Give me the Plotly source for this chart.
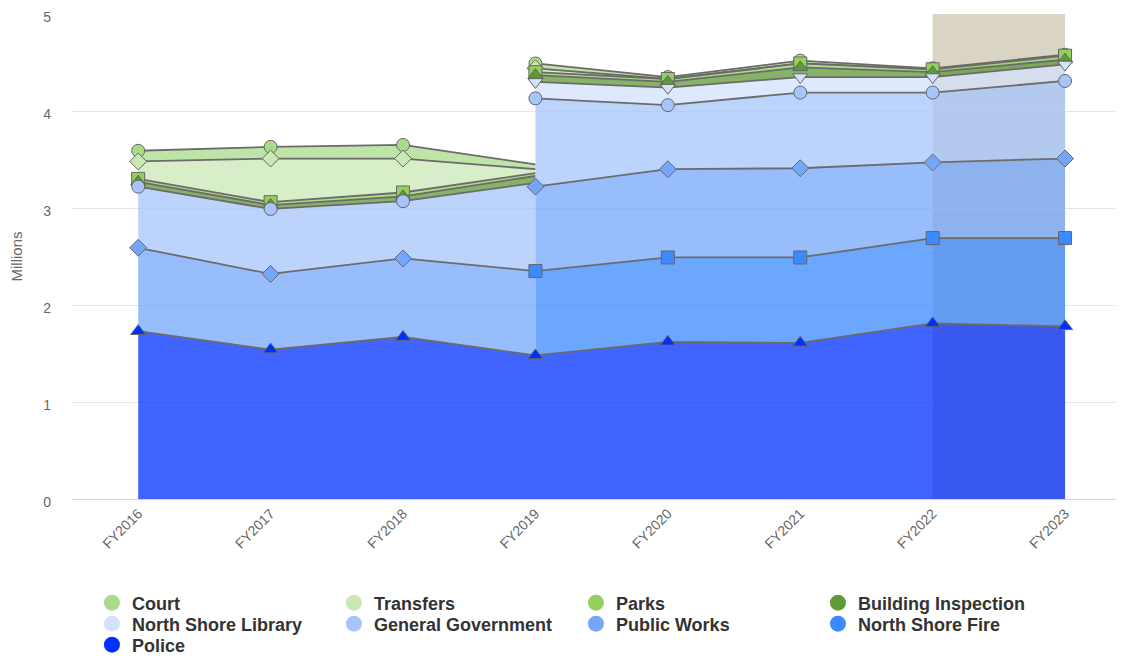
import plotly.graph_objects as go

years = ["FY2016", "FY2017", "FY2018", "FY2019", "FY2020", "FY2021", "FY2022", "FY2023"]

# values in millions, stacking order bottom -> top
police = [1.73, 1.54, 1.67, 1.48, 1.62, 1.61, 1.81, 1.78]
north_shore_fire = [None, None, None, 0.87, 0.87, 0.88, 0.88, 0.91]
public_works = [0.86, 0.78, 0.81, 0.87, 0.91, 0.92, 0.78, 0.82]
general_government = [0.63, 0.67, 0.59, 0.91, 0.66, 0.78, 0.72, 0.80]
north_shore_library = [None, None, None, 0.17, 0.18, 0.16, 0.16, 0.17]
building_inspection = [0.05, 0.04, 0.05, 0.07, 0.06, 0.10, 0.05, 0.05]
parks = [0.03, 0.03, 0.04, 0.03, 0.03, 0.04, 0.03, 0.04]
transfers = [0.18, 0.45, 0.35, 0.04, 0, 0, 0, 0]
court = [0.11, 0.12, 0.14, 0.05, 0.02, 0.03, 0.01, 0.01]

legend_names = ["Court", "Transfers", "Parks", "Building Inspection", "North Shore Library",
                "General Government", "Public Works", "North Shore Fire", "Police"]
series_values = [court, transfers, parks, building_inspection, north_shore_library,
                 general_government, public_works, north_shore_fire, police]
colors = ["#aadb8a", "#c9e8b6", "#93d15e", "#5e9a35", "#d4e2fc",
          "#a6c5fb", "#74a7fb", "#3b8aff", "#0030ff"]
symbols = ["circle", "diamond", "square", "triangle-up", "triangle-down",
           "circle", "diamond", "square", "triangle-up"]

band_range = ("FY2022", "FY2023")


def rgba(hex_color, a):
    h = hex_color.lstrip("#")
    r, g, b = int(h[0:2], 16), int(h[2:4], 16), int(h[4:6], 16)
    return f"rgba({r},{g},{b},{a})"


n = len(years)
# stack order bottom -> top
stack = list(reversed(range(len(legend_names))))
vals = [series_values[s] for s in stack]
present = [[v is not None for v in row] for row in vals]

bottoms, tops = [], []
cum = [0.0] * n
for k, row in enumerate(vals):
    b_row, t_row = [], []
    for i in range(n):
        b_row.append(cum[i])
        if present[k][i]:
            cum[i] = cum[i] + row[i]
        t_row.append(cum[i])
    bottoms.append(b_row)
    tops.append(t_row)


def dummy(k, i, d):
    j = i + d
    if j < 0 or j >= n:
        return None
    null_flag = not present[k][j]
    cliff = 0.0
    for m in range(k):
        if present[m][i] and not present[m][j]:
            cliff -= vals[m][i]
    if cliff == 0 and not null_flag:
        return None
    top_d = (bottoms[k][i] if null_flag else tops[k][i]) + cliff
    bot_d = bottoms[k][i] + cliff
    return top_d, bot_d, null_flag


geom = {}
for k in range(len(vals)):
    tp, bp, lx, ly = [], [], [], []
    for i in range(n):
        if not present[k][i]:
            continue
        left = dummy(k, i, -1)
        right = dummy(k, i, 1)
        if left:
            tp.append((i, left[0]))
            bp.append((i, left[1]))
            if not left[2]:
                lx += [i, None]
                ly += [left[0], None]
        tp.append((i, tops[k][i]))
        bp.append((i, bottoms[k][i]))
        lx.append(i)
        ly.append(tops[k][i])
        if right:
            tp.append((i, right[0]))
            bp.append((i, right[1]))
            lx.append(None)
            ly.append(None)
            if not right[2]:
                lx.append(i)
                ly.append(right[0])
    geom[stack[k]] = (tp, bp, lx, ly, tops[k])

fig = go.Figure()

# draw in legend order (top series first, Police last) like the original
for s in range(len(legend_names)):
    tp, bp, lx, ly, tline = geom[s]
    px = [p[0] for p in tp] + [p[0] for p in reversed(bp)]
    py = [p[1] for p in tp] + [p[1] for p in reversed(bp)]
    fig.add_trace(go.Scatter(x=px, y=py, mode="lines", fill="toself",
                             fillcolor=rgba(colors[s], 0.75), line=dict(width=0),
                             showlegend=False, hoverinfo="skip"))
    fig.add_trace(go.Scatter(x=lx, y=ly, mode="lines", connectgaps=False,
                             line=dict(color="#6b6b6b", width=1.8),
                             showlegend=False, hoverinfo="skip"))
    mx, my = [], []
    for i in range(n):
        v = series_values[s][i]
        if v is not None and v > 0:
            mx.append(i)
            my.append(tline[i])
    fig.add_trace(go.Scatter(x=mx, y=my, mode="markers",
                             marker=dict(symbol=symbols[s], size=13, color=colors[s],
                                         line=dict(color="#666666", width=1)),
                             showlegend=False, name=legend_names[s]))

# legend: 4 entries per row, each row its own legend box
legend_ids = ["legend", "legend2", "legend3"]
for s, name in enumerate(legend_names):
    fig.add_trace(go.Scatter(x=[None], y=[None], mode="markers", name=name,
                             marker=dict(symbol="circle", size=16, color=colors[s]),
                             legendrank=s + 1, showlegend=True,
                             legend=legend_ids[s // 4]))

fig.add_shape(type="rect", xref="x", yref="y",
              x0=years.index(band_range[0]), x1=years.index(band_range[1]),
              y0=0, y1=5, fillcolor="#d9d4c4", line=dict(width=0), layer="below")

# the page adds an 8px body margin, so the figure is 8px smaller and shifted
page_off = 8
fig_w, fig_h = 1124 - page_off, 656 - page_off
plot_top, plot_h = 14 - page_off, 485
row_centers = [603 - page_off, 624 - page_off, 645 - page_off]


def legend_cfg(row):
    return dict(orientation="h", x=0.019, y=-(row_centers[row] - (plot_top + plot_h)) / plot_h,
                xanchor="left", yanchor="middle",
                entrywidth=197, entrywidthmode="pixels", traceorder="normal",
                font=dict(size=18, color="#333333", weight="bold",
                          family="Liberation Sans, Arial, sans-serif"),
                itemclick=False, tracegroupgap=0, bgcolor="rgba(0,0,0,0)")


fig.update_layout(
    width=fig_w, height=fig_h,
    margin=dict(l=72 - page_off, r=2, t=plot_top, b=fig_h - plot_top - plot_h, autoexpand=False),
    plot_bgcolor="white", paper_bgcolor="white",
    font=dict(family="Liberation Sans, Arial, sans-serif", color="#666666"),
    xaxis=dict(range=[-0.5, 7.43], tickmode="array", tickvals=list(range(n)),
               ticktext=years, tickangle=-45, showgrid=False, showline=True,
               linecolor="#ccd6eb", linewidth=1, zeroline=False, automargin=False,
               tickfont=dict(size=14, color="#666666")),
    yaxis=dict(range=[0, 5], dtick=1, showgrid=True, gridcolor="#e6e6e6",
               zeroline=False, showline=False, ticklabelstandoff=20, automargin=False,
               ticklabeloverflow="allow", ticklabelshift=3,
               tickfont=dict(size=14, color="#666666"),
               title=dict(text="Millions", font=dict(size=15, color="#666666"), standoff=16)),
    legend=legend_cfg(0),
    legend2=legend_cfg(1),
    legend3=legend_cfg(2),
    showlegend=True,
)

fig.write_html("out.html")
